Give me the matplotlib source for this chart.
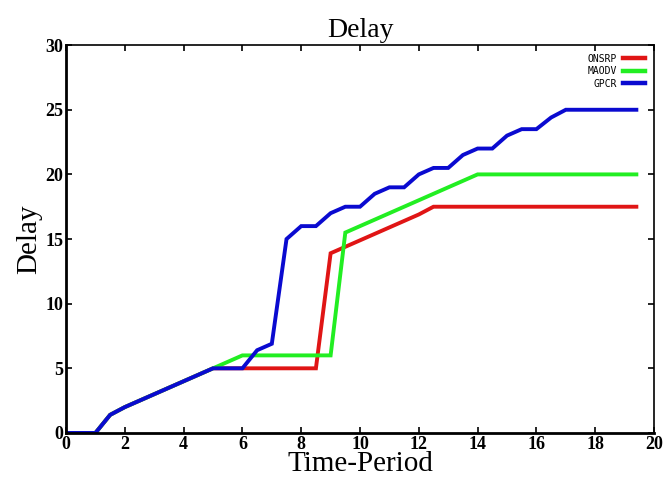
import matplotlib
matplotlib.use("Agg")
import matplotlib.pyplot as plt

onsrp_x = [0, 1, 1.5, 2, 2.5, 3, 3.5, 4, 4.5, 5, 6, 8.5, 9, 10, 11, 12, 12.5, 19.4]
onsrp_y = [0, 0, 1.4, 2, 2.5, 3, 3.5, 4, 4.5, 5, 5, 5, 13.9, 14.9, 15.9, 16.9, 17.5, 17.5]

maodv_x = [0, 1, 1.5, 2, 2.5, 3, 3.5, 4, 4.5, 5, 6, 9, 9.5, 14, 19.4]
maodv_y = [0, 0, 1.4, 2, 2.5, 3, 3.5, 4, 4.5, 5, 6, 6, 15.5, 20, 20]

gpcr_x = [0, 1, 1.5, 2, 2.5, 3, 3.5, 4, 4.5, 5, 6, 6.5, 7, 7.5, 8, 8.5, 9, 9.5, 10,
          10.5, 11, 11.5, 12, 12.5, 13, 13.5, 14, 14.5, 15, 15.5, 16, 16.5, 17, 19.4]
gpcr_y = [0, 0, 1.4, 2, 2.5, 3, 3.5, 4, 4.5, 5, 5, 6.4, 6.9, 15, 16, 16, 17, 17.5, 17.5,
          18.5, 19, 19, 20, 20.5, 20.5, 21.5, 22, 22, 23, 23.5, 23.5, 24.4, 25, 25]

xticks = [0, 2, 4, 6, 8, 10, 12, 14, 16, 18, 20]
yticks = [0, 5, 10, 15, 20, 25, 30]

fig = plt.figure(figsize=(6.67, 4.80), dpi=100)
ax = fig.add_axes([0.099, 0.098, 0.8815, 0.808])

ax.plot(onsrp_x, onsrp_y, color="#e01515", lw=2.8, label="ONSRP", solid_joinstyle="miter")
ax.plot(maodv_x, maodv_y, color="#22ee22", lw=2.8, label="MAODV", solid_joinstyle="miter")
ax.plot(gpcr_x, gpcr_y, color="#0a0ad0", lw=2.8, label="GPCR", solid_joinstyle="miter")

ax.set_xlim(0, 20)
ax.set_ylim(0, 30)
ax.set_xticks(xticks)
ax.set_yticks(yticks)
ax.tick_params(direction="in", top=True, right=True, length=4, width=1.2, pad=2)
for lab in ax.get_xticklabels() + ax.get_yticklabels():
    lab.set_fontfamily("Liberation Serif")
    lab.set_fontweight("bold")
    lab.set_fontsize(13)
for side in ["left", "bottom"]:
    ax.spines[side].set_linewidth(2)
for side in ["top", "right"]:
    ax.spines[side].set_linewidth(1.2)

ax.set_title("Delay", fontfamily="Liberation Serif", fontsize=20, pad=6)
ax.set_xlabel("Time-Period", fontfamily="Liberation Serif", fontsize=21, labelpad=-1)
ax.set_ylabel("Delay", fontfamily="Liberation Serif", fontsize=21, labelpad=2)

leg = ax.legend(loc="upper right", frameon=False, markerfirst=False,
                prop={"family": "DejaVu Sans Mono", "size": 7},
                handlelength=2.3, handletextpad=0.6, labelspacing=0.25,
                borderaxespad=0.5)
for line in leg.get_lines():
    line.set_linewidth(3.2)

fig.savefig("out.png", dpi=100)
